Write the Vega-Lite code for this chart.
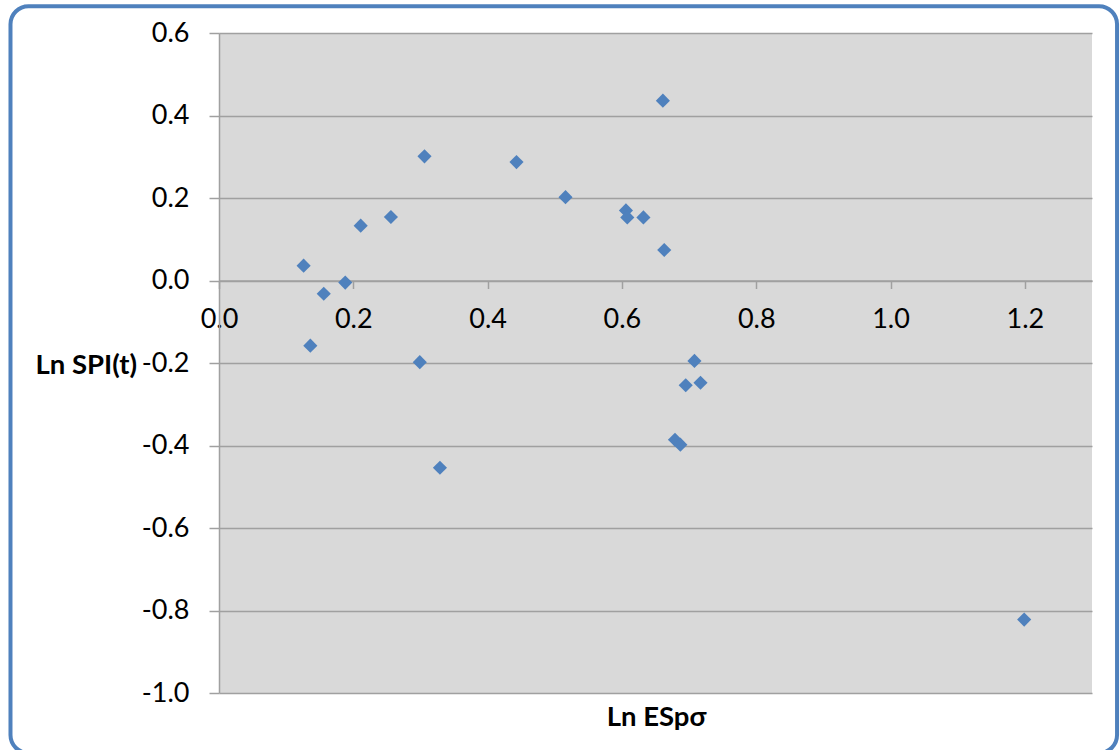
{
  "$schema": "https://vega.github.io/schema/vega-lite/v6.json",
  "width": 873,
  "height": 660,
  "autosize": {"type": "none"},
  "padding": {"left": 219, "top": 33, "right": 28, "bottom": 57},
  "background": "white",
  "config": {"view": {"fill": "#D9D9D9", "stroke": null}, "font": "Lato"},
  "layer": [
    {
      "data": {"values": [{}]},
      "mark": {"type": "rect", "fill": null, "stroke": "#4F81BD", "strokeWidth": 4, "cornerRadius": 18, "clip": false},
      "encoding": {
        "x": {"datum": -0.3105, "type": "quantitative"},
        "x2": {"datum": 1.3373},
        "y": {"datum": 0.665, "type": "quantitative"},
        "y2": {"datum": -1.1455}
      }
    },
    {
      "data": {
        "values": [
          {"lnESp": 0.126, "lnSPIt": 0.036},
          {"lnESp": 0.136, "lnSPIt": -0.158},
          {"lnESp": 0.156, "lnSPIt": -0.032},
          {"lnESp": 0.188, "lnSPIt": -0.005},
          {"lnESp": 0.211, "lnSPIt": 0.133},
          {"lnESp": 0.256, "lnSPIt": 0.154},
          {"lnESp": 0.299, "lnSPIt": -0.198},
          {"lnESp": 0.306, "lnSPIt": 0.301},
          {"lnESp": 0.329, "lnSPIt": -0.454},
          {"lnESp": 0.443, "lnSPIt": 0.287},
          {"lnESp": 0.516, "lnSPIt": 0.202},
          {"lnESp": 0.606, "lnSPIt": 0.170},
          {"lnESp": 0.608, "lnSPIt": 0.153},
          {"lnESp": 0.632, "lnSPIt": 0.153},
          {"lnESp": 0.661, "lnSPIt": 0.436},
          {"lnESp": 0.663, "lnSPIt": 0.074},
          {"lnESp": 0.679, "lnSPIt": -0.386},
          {"lnESp": 0.687, "lnSPIt": -0.398},
          {"lnESp": 0.695, "lnSPIt": -0.254},
          {"lnESp": 0.708, "lnSPIt": -0.195},
          {"lnESp": 0.717, "lnSPIt": -0.248},
          {"lnESp": 1.199, "lnSPIt": -0.822}
        ]
      },
      "mark": {"type": "point", "shape": "diamond", "filled": true, "size": 200, "color": "#4F81BD", "opacity": 1},
      "encoding": {
        "x": {
          "field": "lnESp",
          "type": "quantitative",
          "scale": {"domain": [0, 1.3], "nice": false, "zero": false},
          "axis": {
            "title": "Ln ESpσ",
            "values": [0, 0.2, 0.4, 0.6, 0.8, 1.0, 1.2],
            "format": ".1f",
            "grid": false,
            "offset": -412.5,
            "domainColor": "#A0A0A0",
            "domainWidth": 1.5,
            "tickColor": "#A0A0A0",
            "tickWidth": 1.5,
            "tickSize": 8,
            "labelFontSize": 27,
            "labelColor": "black",
            "labelPadding": 18,
            "labelFlush": false,
            "labelOverlap": false,
            "labelBound": false,
            "titleFontSize": 27.5,
            "titleFontWeight": "bold",
            "titleColor": "black",
            "titleX": 437,
            "titleY": 444.5,
            "titleAlign": "center",
            "titleBaseline": "alphabetic"
          }
        },
        "y": {
          "field": "lnSPIt",
          "type": "quantitative",
          "scale": {"domain": [-1, 0.6], "nice": false, "zero": false},
          "axis": {
            "title": "Ln SPI(t)",
            "values": [-1, -0.8, -0.6, -0.4, -0.2, 0, 0.2, 0.4, 0.6],
            "format": ".1f",
            "labelExpr": "replace(datum.label, '\u2212', '-')",
            "grid": true,
            "gridColor": "#A0A0A0",
            "gridWidth": 1.5,
            "domainColor": "#A0A0A0",
            "domainWidth": 1.5,
            "tickColor": "#A0A0A0",
            "tickWidth": 1.5,
            "tickSize": 10,
            "labelFontSize": 27,
            "labelColor": "black",
            "labelPadding": 20,
            "labelFlush": false,
            "labelOverlap": false,
            "labelBound": false,
            "titleFontSize": 27.5,
            "titleFontWeight": "bold",
            "titleColor": "black",
            "titleAngle": 0,
            "titleAlign": "left",
            "titleBaseline": "alphabetic",
            "titleX": -184,
            "titleY": 340
          }
        }
      }
    }
  ]
}
